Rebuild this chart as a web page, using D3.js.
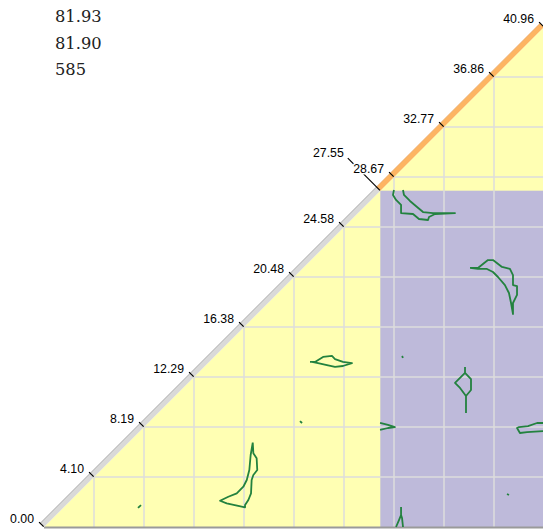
<!DOCTYPE html>
<html><head><meta charset="utf-8">
<script src="https://cdn.jsdelivr.net/npm/d3@7"></script>
<style>html,body{margin:0;padding:0;background:#fff;}svg{display:block;}</style>
</head><body>
<svg id="chart" width="543" height="529"></svg>
<script>
// ---- data ----
const domainMax = 40.96;
const breakValue = 27.55;
const tickValues = [0, 4.096, 8.192, 12.288, 16.384, 20.48, 24.576, 28.672, 32.768, 36.864, 40.96];
const tickLabels = ["0.00","4.10","8.19","12.29","16.38","20.48","24.58","28.67","32.77","36.86","40.96"];
const breakLabel = "27.55";
const infoTexts = ["81.93", "81.90", "585"];

const contourA = [[28.67,27.61],[28.59,27.20],[28.84,26.79],[29.25,26.38],[29.25,25.72],[30.23,25.64],[30.72,25.23],[31.46,25.15],[31.54,25.40],[32.03,25.64],[33.67,25.72],[31.87,25.72],[31.05,25.80],[30.56,26.21],[29.98,26.71],[29.49,27.20],[29.41,27.61]];
const contourB = [[34.90,21.22],[35.55,21.22],[36.37,21.87],[36.78,21.87],[37.52,21.30],[38.17,21.14],[38.42,20.64],[38.42,19.82],[38.75,19.74],[38.75,19.01],[38.42,18.35],[38.42,17.45],[38.26,18.35],[38.09,19.17],[37.76,19.82],[37.19,20.48],[36.78,20.89],[36.29,21.14],[35.55,21.14],[34.90,21.22]];
const contourC1 = [[34.49,13.11],[34.49,12.62],[34.98,12.12],[34.98,11.22],[34.57,10.73],[34.57,9.34]];
const contourC2 = [[34.49,12.62],[33.67,11.80],[34.08,11.39],[34.57,10.73]];
const contourD = [[29.33,14.01],[29.41,13.85]];
const contourE = [[27.53,8.52],[28.18,8.36],[28.75,8.19],[28.18,8.11],[27.53,7.95]];
const contourF = [[40.96,8.52],[40.39,8.52],[39.65,8.27],[38.91,8.19],[38.75,8.11],[38.99,7.70],[39.57,7.78],[40.96,7.86]];
const contourG = [[37.93,2.70],[38.09,2.62]];
const contourH1 = [[29.25,1.64],[29.25,0.98],[29.33,0.74],[29.41,0.0]];
const contourH2 = [[29.25,0.98],[29.08,0.57],[28.84,0.0]];
const contourI = [[21.79,13.52],[22.20,13.52],[22.86,13.93],[23.59,14.01],[23.84,13.76],[24.49,13.52],[25.23,13.43],[24.49,13.19],[23.84,13.11],[23.18,13.27],[22.45,13.43],[21.95,13.52]];
const contourJ = [[20.97,8.68],[21.14,8.52]];
const contourK = [[17.10,6.91],[17.15,6.04],[17.42,5.63],[17.47,4.67],[17.15,4.26],[17.01,3.85],[16.96,2.76],[16.74,2.21],[16.47,1.80],[16.47,1.61],[14.97,1.94],[14.42,2.15],[15.10,2.48],[15.79,2.76],[16.33,3.30],[16.61,3.85],[16.82,4.67],[16.93,5.90],[17.10,6.91]];
const contourL = [[7.70,1.56],[7.95,1.80]];
const contours = [contourA, contourB, contourC1, contourC2, contourD, contourE, contourF, contourG, contourH1, contourH2, contourI, contourJ, contourK, contourL];

// ---- drawing ----
const svg = d3.select("#chart");
const x = d3.scaleLinear().domain([0, domainMax]).range([44, 544]);
const y = d3.scaleLinear().domain([0, domainMax]).range([527, 27]);

// triangle fill (yellow)
svg.append("path")
  .attr("d", `M${x(0)},${y(0)}L${x(domainMax)},${y(domainMax)}L${x(domainMax)},${y(0)}Z`)
  .attr("fill", "#ffffb3");

// purple region
svg.append("rect")
  .attr("x", x(breakValue)).attr("y", y(breakValue))
  .attr("width", x(domainMax) - x(breakValue))
  .attr("height", y(0) - y(breakValue))
  .attr("fill", "#bebada");

// gridlines
const grid = svg.append("g").attr("stroke", "#dcdcdc").attr("stroke-width", 1.5);
tickValues.slice(1, -1).forEach(v => {
  grid.append("line").attr("x1", x(v)).attr("x2", x(v)).attr("y1", y(v)).attr("y2", y(0));
  grid.append("line").attr("x1", x(v)).attr("x2", x(domainMax)).attr("y1", y(v)).attr("y2", y(v));
});

// bottom border
svg.append("line").attr("x1", x(0)).attr("x2", x(domainMax)).attr("y1", y(0) + 0.5).attr("y2", y(0) + 0.5)
  .attr("stroke", "#9a9a9a").attr("stroke-width", 2);

// contours
const line = d3.line().x(d => x(d[0])).y(d => y(d[1]));
svg.append("g").selectAll("path").data(contours).join("path")
  .attr("d", line)
  .attr("fill", "none")
  .attr("stroke", "#23823f")
  .attr("stroke-width", 1.8)
  .attr("stroke-linejoin", "round");

// diagonal band
const k = Math.SQRT1_2;
function off(v, o) { return [x(v) - o * k, y(v) - o * k]; }
function seg(v0, v1, o) { const a = off(v0, o), b = off(v1, o); return `M${a[0]},${a[1]}L${b[0]},${b[1]}`; }
svg.append("path").attr("d", seg(0, breakValue, 2.6)).attr("stroke", "#d9d9d9").attr("stroke-width", 5.2).attr("fill", "none");
svg.append("path").attr("d", seg(0, breakValue, 5.3)).attr("stroke", "#a8a8a8").attr("stroke-width", 1).attr("fill", "none");
svg.append("path").attr("d", seg(breakValue, domainMax, 2.6)).attr("stroke", "#fdb462").attr("stroke-width", 5.2).attr("fill", "none");
svg.append("path").attr("d", seg(breakValue, domainMax, 5.3)).attr("stroke", "#e89a4c").attr("stroke-width", 0.8).attr("fill", "none");

// ticks and labels
const axis = svg.append("g");
tickValues.forEach((v, i) => {
  const a = off(v, 0.5), b = off(v, 7);
  axis.append("line").attr("x1", a[0]).attr("y1", a[1]).attr("x2", b[0]).attr("y2", b[1])
    .attr("stroke", "#000").attr("stroke-width", 1.2);
  axis.append("text").attr("x", b[0] - 5).attr("y", b[1] + 0.5)
    .attr("text-anchor", "end")
    .attr("font-family", "Liberation Sans, Arial, sans-serif").attr("font-size", 12.3)
    .attr("fill", "#000")
    .attr("stroke", "#fff").attr("stroke-width", 3).attr("paint-order", "stroke")
    .text(tickLabels[i]);
});
// break marker (long leader)
{
  const a = off(breakValue, 0.5), b = off(breakValue, 46);
  axis.insert("line", ":first-child").attr("x1", a[0]).attr("y1", a[1]).attr("x2", b[0]).attr("y2", b[1])
    .attr("stroke", "#000").attr("stroke-width", 1.2);
  axis.append("text").attr("x", b[0] - 4).attr("y", b[1] - 1.5)
    .attr("text-anchor", "end")
    .attr("font-family", "Liberation Sans, Arial, sans-serif").attr("font-size", 12.3)
    .attr("fill", "#000")
    .text(breakLabel);
}

// info texts
svg.append("g").selectAll("text").data(infoTexts).join("text")
  .attr("x", 55).attr("y", (d, i) => 22 + i * 26.5)
  .attr("font-family", "DejaVu Serif, serif").attr("font-size", 16.3)
  .attr("fill", "#222")
  .text(d => d);
</script>
</body></html>
